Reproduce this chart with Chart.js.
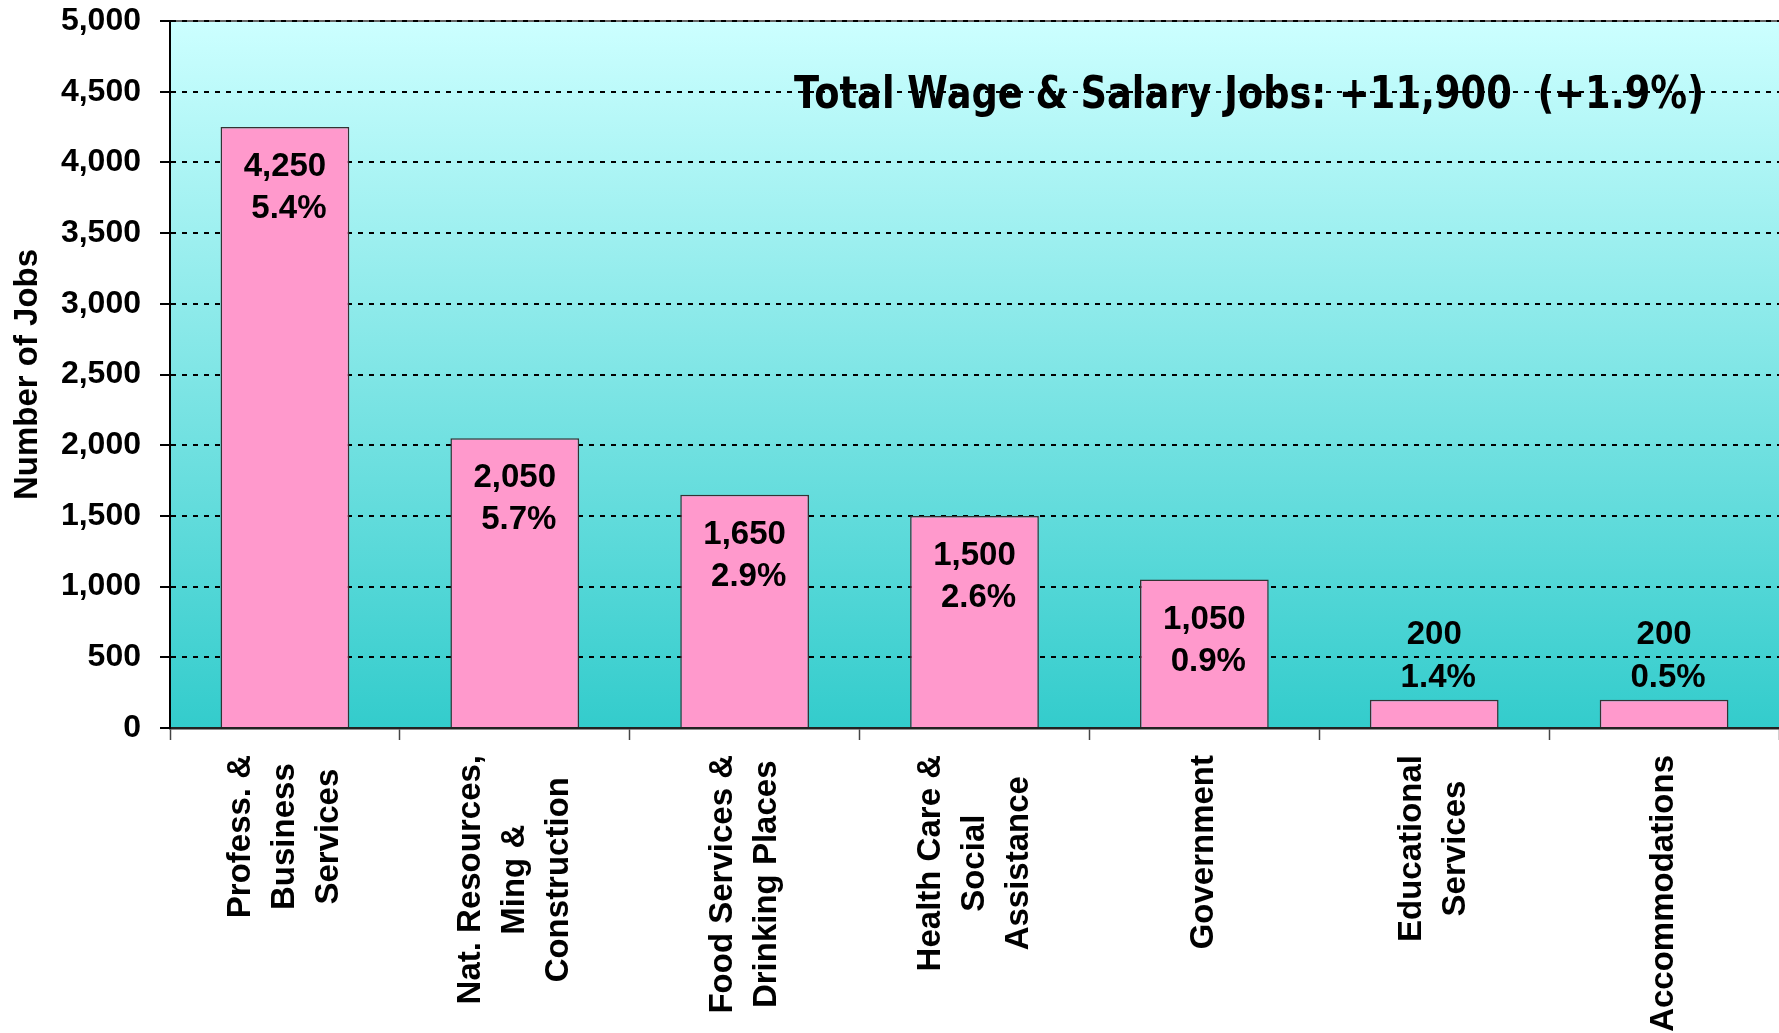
<!DOCTYPE html>
<html>
<head>
<meta charset="utf-8">
<title>Job growth by industry</title>
<script src="https://cdn.jsdelivr.net/npm/chart.js@4.4.1/dist/chart.umd.min.js"></script>
<style>
  html, body { margin: 0; padding: 0; background: #fff; }
  #wrap { width: 1779px; height: 1033px; position: relative; }
</style>
</head>
<body>
<div id="wrap"><canvas id="chart"></canvas></div>
<script>
// industries, one array of lines per category
const industries = [
  ["Profess. &", "Business", "Services"],
  ["Nat. Resources,", "Ming &", "Construction"],
  ["Food Services &", "Drinking Places"],
  ["Health Care &", "Social", "Assistance"],
  ["Government"],
  ["Educational", "Services"],
  ["Accommodations"]
];
const jobsAdded = [4250, 2050, 1650, 1500, 1050, 200, 200];
const pctChange = ["5.4%", "5.7%", "2.9%", "2.6%", "0.9%", "1.4%", "0.5%"];
const yMax = 5000;
const yStep = 500;
const totalNote = "Total Wage & Salary Jobs: +11,900  (+1.9%)";

const FONT = "'Liberation Sans', Arial, sans-serif";

// background gradient, note text, bar labels and rotated category names
const decor = {
  id: "decor",
  beforeDraw(chart) {
    const { ctx, chartArea: a, scales } = chart;
    const g = ctx.createLinearGradient(0, a.top, 0, a.bottom);
    g.addColorStop(0, "#ccffff");
    g.addColorStop(1, "#33cccc");
    ctx.save();
    ctx.fillStyle = g;
    ctx.fillRect(a.left, a.top, a.right - a.left, a.bottom - a.top);

    ctx.strokeStyle = "#666";
    ctx.lineWidth = 2;
    ctx.beginPath();
    ctx.moveTo(a.left, a.top);
    ctx.lineTo(a.right, a.top);
    ctx.stroke();

    ctx.fillStyle = "#000";
    ctx.font = "bold 44px 'DejaVu Sans', Verdana, sans-serif";
    ctx.textAlign = "left";
    ctx.textBaseline = "middle";
    ctx.fillText(totalNote, a.left + 624, scales.y.getPixelForValue(4500) + 5, 910);
    ctx.restore();
  },
  afterDatasetsDraw(chart) {
    const { ctx } = chart;
    const meta = chart.getDatasetMeta(0);
    ctx.save();
    ctx.fillStyle = "#000";
    ctx.font = "bold 33px " + FONT;
    ctx.textAlign = "center";
    ctx.textBaseline = "middle";
    meta.data.forEach((bar, i) => {
      const tall = bar.base - bar.y > 120;
      const y1 = tall ? bar.y + 40 : bar.y - 65;
      const y2 = tall ? bar.y + 82 : bar.y - 22;
      ctx.fillText(jobsAdded[i].toLocaleString("en-US"), bar.x, y1);
      ctx.fillText(pctChange[i], bar.x + 4, y2);
    });
    ctx.restore();
  },
  afterDraw(chart) {
    const { ctx, chartArea: a } = chart;
    const xs = chart.scales.x;
    ctx.save();
    ctx.fillStyle = "#000";
    ctx.font = "bold 33px " + FONT;
    ctx.textAlign = "center";
    ctx.textBaseline = "middle";
    industries.forEach((lines, i) => {
      const cx = xs.getPixelForValue(i);
      const w = Math.max(...lines.map((l) => ctx.measureText(l).width));
      const cy = a.bottom + 27 + w / 2;
      ctx.save();
      ctx.translate(cx, cy);
      ctx.rotate(-Math.PI / 2);
      lines.forEach((l, j) => {
        ctx.fillText(l, 0, (j - (lines.length - 1) / 2) * 44);
      });
      ctx.restore();
    });
    ctx.restore();
  }
};

new Chart(document.getElementById("chart"), {
  type: "bar",
  data: {
    labels: industries.map((l) => l.join(" ")),
    datasets: [{
      data: jobsAdded,
      backgroundColor: "#ff99cc",
      borderColor: "#333",
      borderWidth: 1.5,
      barPercentage: 0.56,
      categoryPercentage: 1
    }]
  },
  options: {
    responsive: true,
    maintainAspectRatio: false,
    animation: false,
    layout: { padding: { top: 21, right: 0, bottom: 0, left: 0 } },
    plugins: { legend: { display: false }, tooltip: { enabled: false } },
    scales: {
      x: {
        ticks: { display: false },
        grid: { drawOnChartArea: false, drawTicks: true, tickLength: 12, tickColor: "#444", tickWidth: 1.5, offset: true },
        border: { color: "#222", width: 2.5, z: 1 },
        afterFit: (s) => { s.height = 305; }
      },
      y: {
        min: 0,
        max: yMax,
        ticks: {
          stepSize: yStep,
          padding: 19,
          color: "#000",
          font: { family: FONT, size: 32, weight: "bold" },
          callback: (v) => v.toLocaleString("en-US")
        },
        grid: { color: "#000", lineWidth: 2, tickLength: 10, tickColor: "#000", tickWidth: 2 },
        border: { color: "#000", width: 2, dash: [5, 6], z: 1 },
        title: {
          display: true,
          text: "Number of Jobs",
          color: "#000",
          font: { family: FONT, size: 33, weight: "bold" },
          padding: { top: 8, bottom: 0 }
        },
        afterFit: (s) => {
          s.width = 170;
          s.paddingTop = 0;
          s.paddingBottom = 0;
        }
      }
    }
  },
  plugins: [decor]
});
</script>
</body>
</html>
